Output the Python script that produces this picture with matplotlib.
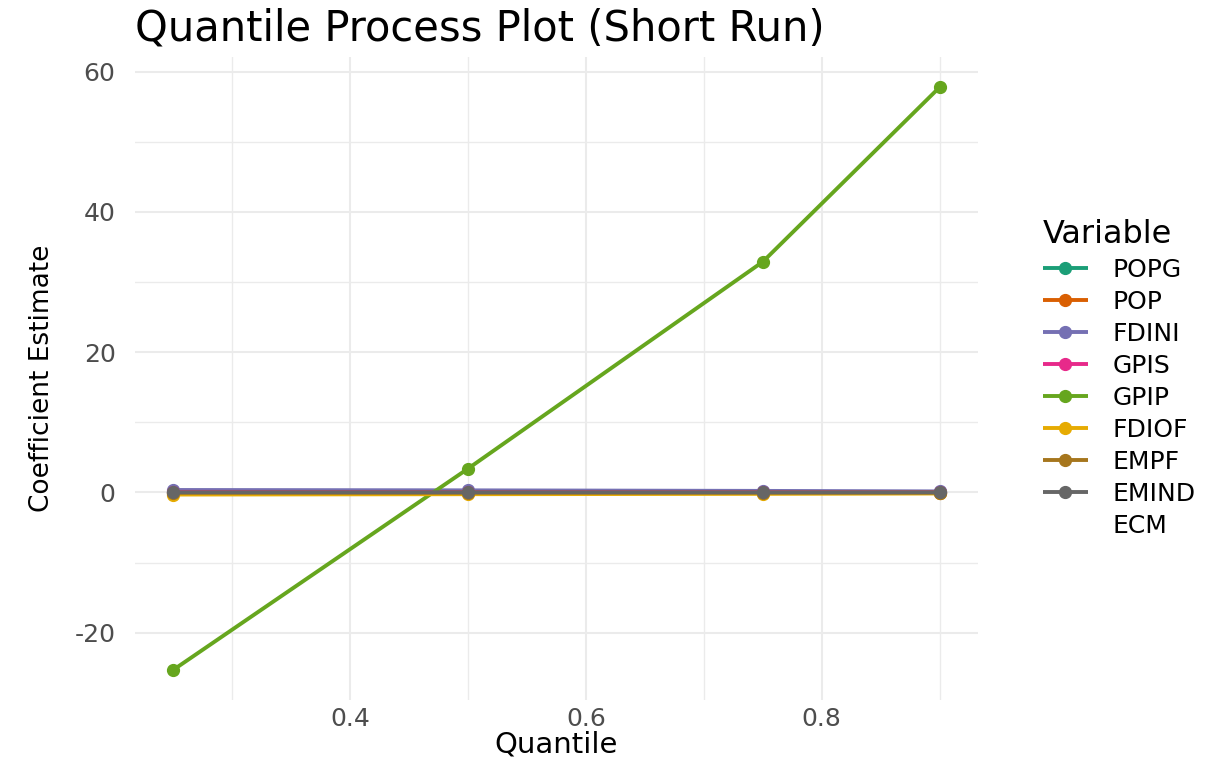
import matplotlib
matplotlib.use('Agg')
import matplotlib.pyplot as plt
from matplotlib.ticker import MultipleLocator

plt.rcParams['font.family'] = ['DejaVu Sans']

# Quantiles and coefficient estimates
quantiles = [0.25, 0.5, 0.75, 0.9]
variables = ['POPG', 'POP', 'FDINI', 'GPIS', 'GPIP', 'FDIOF', 'EMPF', 'EMIND', 'ECM']
popg = [0.05, 0.03, 0.02, 0.01]
pop = [-0.10, -0.08, -0.06, -0.05]
fdini = [0.35, 0.30, 0.22, 0.15]
gpis = [0.08, 0.06, 0.05, 0.03]
gpip = [-25.3, 3.4, 32.9, 57.8]
fdiof = [-0.30, -0.25, -0.20, -0.15]
empf = [-0.05, -0.04, -0.03, -0.02]
emind = [0.02, 0.02, 0.01, 0.01]
ecm = [-0.12, -0.10, -0.08, -0.06]
values = [popg, pop, fdini, gpis, gpip, fdiof, empf, emind, ecm]

# Dark2 has only 8 colours, so the ninth level gets none
colors = ['#1B9E77', '#D95F02', '#7570B3', '#E7298A', '#66A61E',
          '#E6AB02', '#A6761D', '#666666', 'none']

fig = plt.figure(figsize=(12.15, 7.57), dpi=100)
ax = fig.add_axes([135 / 1215, 57 / 757, 843 / 1215, 643 / 757])

for name, vals, col in zip(variables, values, colors):
    ax.plot(quantiles, vals, color=col, lw=2.8, marker='o', ms=8.5,
            label=name, solid_capstyle='butt')

ax.set_xlim(0.2175, 0.9325)
ax.set_ylim(-29.6, 62.1)
ax.xaxis.set_minor_locator(MultipleLocator(0.1))
ax.yaxis.set_minor_locator(MultipleLocator(10))
ax.set_xticks([0.4, 0.6, 0.8])
ax.set_xticklabels(['0.4', '0.6', '0.8'])
ax.set_yticks([-20, 0, 20, 40, 60])
ax.set_yticklabels(['-20', '0', '20', '40', '60'])

ax.grid(which='major', color='#EBEBEB', lw=1.5)
ax.grid(which='minor', color='#EBEBEB', lw=1.0)
ax.set_axisbelow(True)
for s in ax.spines.values():
    s.set_visible(False)
ax.tick_params(which='both', length=0, labelsize=18, labelcolor='#4D4D4D')
ax.tick_params(axis='y', pad=14)
ax.tick_params(axis='x', pad=5)

ax.set_xlabel('Quantile', fontsize=21, labelpad=0)
ax.set_ylabel('Coefficient Estimate', fontsize=19, labelpad=14)
fig.text(135 / 1215, 1 - 28 / 757, 'Quantile Process Plot (Short Run)',
         fontsize=30, va='center', ha='left')

leg = ax.legend(title='Variable', loc='center left', bbox_to_anchor=(1.05, 0.5),
                frameon=False, fontsize=18, title_fontsize=23,
                handlelength=1.8, handletextpad=1.0, labelspacing=0.32)
leg._legend_box.align = 'left'

fig.savefig('out.png', dpi=100, facecolor='white')
